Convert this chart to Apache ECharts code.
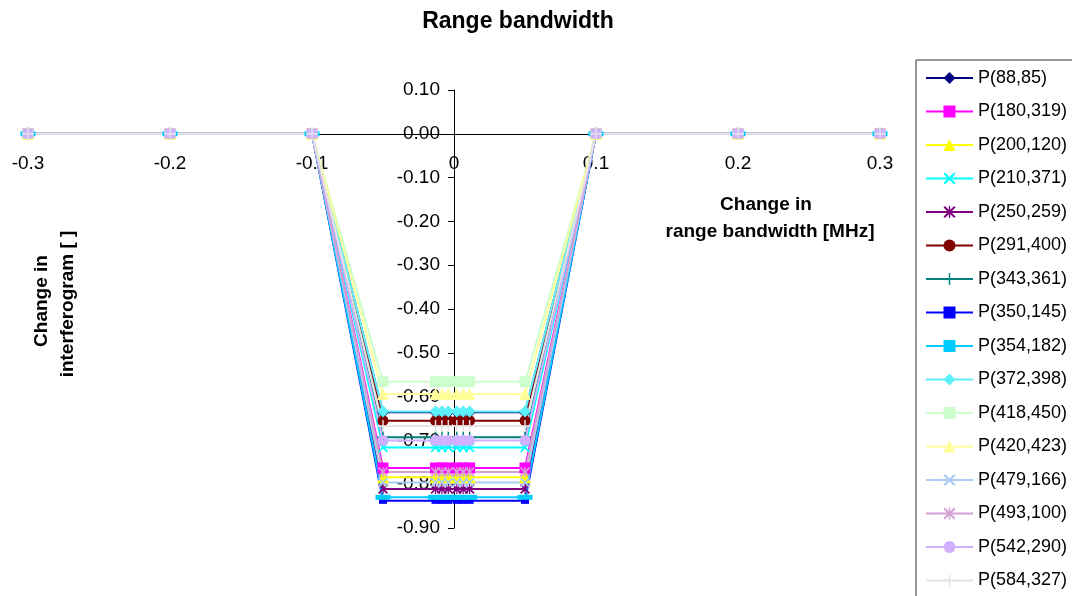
<!DOCTYPE html>
<html>
<head>
<meta charset="utf-8">
<script src="https://cdn.jsdelivr.net/npm/echarts@6/dist/echarts.min.js"></script>
<style>
html,body{margin:0;padding:0;background:#fff;overflow:hidden;}
#chart{width:1072px;height:596px;}
</style>
</head>
<body>
<div id="chart"></div>
<script>
// x positions (change in range bandwidth, MHz)
const xValues = [-0.3, -0.2, -0.1, -0.05, -0.013, -0.0085, -0.004, 0.002, 0.0065, 0.011, 0.05, 0.1, 0.2, 0.3];

// series names
const seriesNames = ['P(88,85)','P(180,319)','P(200,120)','P(210,371)','P(250,259)','P(291,400)','P(343,361)','P(350,145)','P(354,182)','P(372,398)','P(418,450)','P(420,423)','P(479,166)','P(493,100)','P(542,290)','P(584,327)'];

// series values
const p88_85   = [0, 0, 0, -0.636, -0.636, -0.636, -0.636, -0.636, -0.636, -0.636, -0.636, 0, 0, 0];
const p180_319 = [0, 0, 0, -0.763, -0.763, -0.763, -0.763, -0.763, -0.763, -0.763, -0.763, 0, 0, 0];
const p200_120 = [0, 0, 0, -0.784, -0.784, -0.784, -0.784, -0.784, -0.784, -0.784, -0.784, 0, 0, 0];
const p210_371 = [0, 0, 0, -0.716, -0.716, -0.716, -0.716, -0.716, -0.716, -0.716, -0.716, 0, 0, 0];
const p250_259 = [0, 0, 0, -0.811, -0.811, -0.811, -0.811, -0.811, -0.811, -0.811, -0.811, 0, 0, 0];
const p291_400 = [0, 0, 0, -0.655, -0.655, -0.655, -0.655, -0.655, -0.655, -0.655, -0.655, 0, 0, 0];
const p343_361 = [0, 0, 0, -0.693, -0.693, -0.693, -0.693, -0.693, -0.693, -0.693, -0.693, 0, 0, 0];
const p350_145 = [0, 0, 0, -0.838, -0.838, -0.838, -0.838, -0.838, -0.838, -0.838, -0.838, 0, 0, 0];
const p354_182 = [0, 0, 0, -0.830, -0.830, -0.830, -0.830, -0.830, -0.830, -0.830, -0.830, 0, 0, 0];
const p372_398 = [0, 0, 0, -0.634, -0.634, -0.634, -0.634, -0.634, -0.634, -0.634, -0.634, 0, 0, 0];
const p418_450 = [0, 0, 0, -0.566, -0.566, -0.566, -0.566, -0.566, -0.566, -0.566, -0.566, 0, 0, 0];
const p420_423 = [0, 0, 0, -0.594, -0.594, -0.594, -0.594, -0.594, -0.594, -0.594, -0.594, 0, 0, 0];
const p479_166 = [0, 0, 0, -0.796, -0.796, -0.796, -0.796, -0.796, -0.796, -0.796, -0.796, 0, 0, 0];
const p493_100 = [0, 0, 0, -0.772, -0.772, -0.772, -0.772, -0.772, -0.772, -0.772, -0.772, 0, 0, 0];
const p542_290 = [0, 0, 0, -0.700, -0.700, -0.700, -0.700, -0.700, -0.700, -0.700, -0.700, 0, 0, 0];
const p584_327 = [0, 0, 0, -0.667, -0.667, -0.667, -0.667, -0.667, -0.667, -0.667, -0.667, 0, 0, 0];

const seriesValues = [p88_85, p180_319, p200_120, p210_371, p250_259, p291_400, p343_361, p350_145, p354_182, p372_398, p418_450, p420_423, p479_166, p493_100, p542_290, p584_327];

// axis ranges / ticks
const xMin = -0.3, xMax = 0.3, xStep = 0.1;
const yMin = -0.9, yMax = 0.1, yStep = 0.1;

// styling
const colors = ['#000080','#FF00FF','#FFFF00','#00FFFF','#800080','#800000','#008080','#0000FF','#00CCFF','#5EF0F8','#CCFFCC','#FFFF99','#A9CCF5','#D4A0D4','#D0B0FF','#E4E4E4'];
const X_PATH = 'path://M0,1.2 L1.2,0 L10,8.8 L8.8,10 Z M8.8,0 L10,1.2 L1.2,10 L0,8.8 Z';
const STAR_PATH = 'path://M0,1.2 L1.2,0 L10,8.8 L8.8,10 Z M8.8,0 L10,1.2 L1.2,10 L0,8.8 Z M4.4,0 H5.6 V10 H4.4 Z';
const PLUS_PATH = 'path://M4.4,0 H5.6 V10 H4.4 Z M0,4.4 H10 V5.6 H0 Z';
const SMALLBAR = 'path://M0,0 H8 V6 H0 Z';
const LONGBAR = 'path://M0,0 H15 V5 H0 Z';
const symbols = ['diamond','rect','triangle',X_PATH,STAR_PATH,'circle',PLUS_PATH,SMALLBAR,LONGBAR,'diamond','rect','triangle',X_PATH,STAR_PATH,'circle',PLUS_PATH];
const symSizes = [12,11,12,10,10,11,12,8,15,12,11,12,10,10,11,12];

const series = seriesNames.map((name, i) => ({
  name: name,
  type: 'line',
  data: xValues.map((x, j) => [x, seriesValues[i][j]]),
  symbol: symbols[i],
  symbolSize: symSizes[i],
  symbolKeepAspect: true,
  showAllSymbol: true,
  lineStyle: { color: colors[i], width: 2 },
  itemStyle: { color: colors[i] },
  emphasis: { disabled: true },
  animation: false
}));

const W = 1072, H = 596;
const gridL = 28, gridR = 192, gridT = 90, gridB = 68;
const gridW = W - gridL - gridR, gridH = H - gridT - gridB;
// put the axes through the origin
const yAxisOffset = -gridW * (0 - xMin) / (xMax - xMin);
const xAxisOffset = -gridH * (0 - yMin) / (yMax - yMin);

const FONT = '"Liberation Sans", Arial, sans-serif';
const chart = echarts.init(document.getElementById('chart'), null, { renderer: 'canvas' });
chart.setOption({
  backgroundColor: '#fff',
  animation: false,
  textStyle: { fontFamily: FONT },
  grid: { left: gridL, right: gridR, top: gridT, bottom: gridB, containLabel: false, outerBoundsMode: 'none' },
  xAxis: {
    type: 'value', min: xMin, max: xMax, interval: xStep,
    position: 'bottom', offset: xAxisOffset,
    axisLine: { onZero: false, lineStyle: { color: '#000', width: 1 } },
    axisTick: { show: false },
    splitLine: { show: false },
    axisLabel: {
      color: '#000', fontSize: 19, margin: 20, fontFamily: FONT,
      formatter: v => { const r = Math.round(v * 10) / 10; return r === 0 ? '0' : r.toFixed(1); }
    }
  },
  yAxis: {
    type: 'value', min: yMin, max: yMax, interval: yStep,
    position: 'left', offset: yAxisOffset,
    axisLine: { show: true, onZero: false, lineStyle: { color: '#000', width: 1 } },
    axisTick: { show: true, length: 6, lineStyle: { color: '#000' } },
    splitLine: { show: false },
    axisLabel: {
      color: '#000', fontSize: 19, margin: 14, fontFamily: FONT,
      formatter: v => { const r = Math.round(v * 100) / 100; return (r === 0 ? 0 : r).toFixed(2); }
    }
  },
  legend: {
    orient: 'vertical',
    left: 916, top: 60, height: 800,
    padding: [9, 40, 40, 9],
    itemWidth: 47, itemHeight: 15, itemGap: 15.5,
    borderColor: '#333', borderWidth: 1,
    textStyle: { color: '#000', fontSize: 18, fontFamily: FONT },
    data: seriesNames
  },
  graphic: [
    { type: 'text', x: 518, y: 10, style: { text: 'Range bandwidth', fill: '#000', font: 'bold 23px ' + FONT, textAlign: 'center', textVerticalAlign: 'top' } },
    { type: 'text', x: 766, y: 205, style: { text: 'Change in', fill: '#000', font: 'bold 19px ' + FONT, textAlign: 'center', textVerticalAlign: 'middle' } },
    { type: 'text', x: 770, y: 232, style: { text: 'range bandwidth [MHz]', fill: '#000', font: 'bold 19px ' + FONT, textAlign: 'center', textVerticalAlign: 'middle' } },
    { type: 'text', x: 42, y: 301, rotation: Math.PI / 2, style: { text: 'Change in', fill: '#000', font: 'bold 19px ' + FONT, textAlign: 'center', textVerticalAlign: 'middle' } },
    { type: 'text', x: 68, y: 304, rotation: Math.PI / 2, style: { text: 'interferogram [ ]', fill: '#000', font: 'bold 19px ' + FONT, textAlign: 'center', textVerticalAlign: 'middle' } }
  ],
  series: series
});
</script>
</body>
</html>
